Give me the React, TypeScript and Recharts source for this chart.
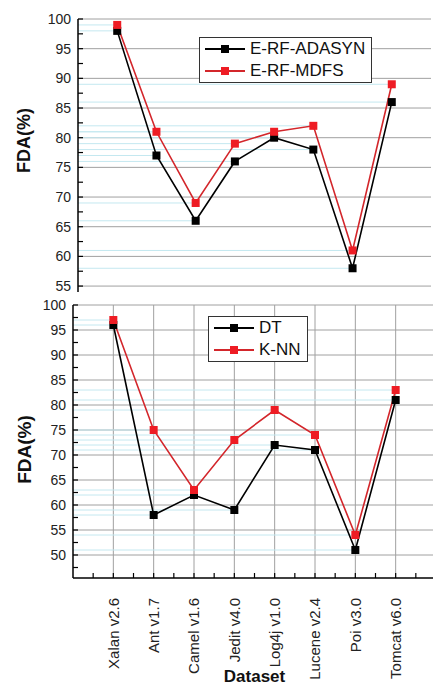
import React from "react";
import { LineChart, Line, XAxis, YAxis, CartesianGrid, ReferenceLine, Legend } from "recharts";

const datasets = ["Xalan v2.6", "Ant v1.7", "Camel v1.6", "Jedit v4.0", "Log4j v1.0", "Lucene v2.4", "Poi v3.0", "Tomcat v6.0"];
const adasyn = [98, 77, 66, 76, 80, 78, 58, 86];
const mdfs = [99, 81, 69, 79, 81, 82, 61, 89];
const dt = [96, 58, 62, 59, 72, 71, 51, 81];
const knn = [97, 75, 63, 73, 79, 74, 54, 83];
const topMajor = [55, 60, 65, 70, 75, 80, 85, 90, 95, 100];
const bottomMajor = [50, 55, 60, 65, 70, 75, 80, 85, 90, 95, 100];

const FONT = "'Liberation Sans', Arial, sans-serif";
const RED_LINE = "#d3262b";
const RED_DOT = "#ee1c24";
const BLACK = "#000";
const GRID = "#a0a0a0";
const DROP = "#c4e8f0";

const catIdx = datasets.map((_, i) => i + 1);
const xTicks = [0.5, ...catIdx.flatMap((i) => [i, i + 0.5])];
const withMinor = (major: number[], min: number) =>
  major.flatMap((t) => [t - 2.5, t]).filter((t) => t >= min);

const topRows = datasets.map((name, i) => ({ idx: i + 1, name, a: adasyn[i], b: mdfs[i] }));
const bottomRows = datasets.map((name, i) => ({ idx: i + 1, name, a: dt[i], b: knn[i] }));

const square = (fill: string) => (p: any) => (
  <rect key={`sq-${p.index}`} x={p.cx - 4} y={p.cy - 4} width={8} height={8} fill={fill} />
);

function AxisTitle({ viewBox, text, shift, size }: any) {
  const cx = viewBox.x + 24;
  const cy = viewBox.y + viewBox.height / 2 + shift;
  return (
    <text x={cx} y={cy} transform={`rotate(-90 ${cx} ${cy})`} textAnchor="middle" dominantBaseline="central"
      fontWeight="bold" fontSize={size} fontFamily={FONT} fill="#111">
      {text}
    </text>
  );
}

function DatasetTick({ x, y, payload }: any) {
  const v = payload.value;
  if (!Number.isInteger(v)) return <g />;
  return (
    <text x={x} y={y} transform={`rotate(-90 ${x} ${y})`} textAnchor="end" dy="0.35em"
      fontSize={15} fontFamily={FONT} fill="#222">
      {datasets[v - 1]}
    </text>
  );
}

function LegendBox({ items }: { items: { name: string; line: string; dot: string }[] }) {
  return (
    <div style={{ border: "1px solid #333", background: "#fff", padding: "0 6px 0 5px", fontFamily: FONT, fontSize: 17, lineHeight: "22px", color: "#111" }}>
      {items.map((it) => (
        <div key={it.name} style={{ display: "flex", alignItems: "center" }}>
          <svg width={40} height={12}>
            <line x1={0} y1={6} x2={40} y2={6} stroke={it.line} strokeWidth={2} />
            <rect x={16} y={2} width={8} height={8} fill={it.dot} />
          </svg>
          <span style={{ marginLeft: 5 }}>{it.name}</span>
        </div>
      ))}
    </div>
  );
}

function dropLines(a: number[], b: number[]) {
  return [...a, ...b].map((v, k) => (
    <ReferenceLine key={`d${k}`} xAxisId="b" yAxisId="l" stroke={DROP} strokeWidth={1}
      segment={[{ x: 0, y: v }, { x: (k % a.length) + 1, y: v }]} />
  ));
}

export default function App() {
  const axisLine = { stroke: "#000", strokeWidth: 1.5 };
  const tickLine = { stroke: "#000", strokeWidth: 1.2 };
  return (
    <div style={{ position: "absolute", left: 0, top: 0, width: 433, height: 688, overflow: "hidden", background: "#fff" }}>
      <div style={{ position: "absolute", left: 0, top: 0 }}>
        <LineChart width={433} height={300} data={topRows} margin={{ top: 19, right: 2, bottom: 8, left: 0 }}>
          <CartesianGrid xAxisId="b" yAxisId="l" stroke={GRID} verticalValues={catIdx} horizontalValues={topMajor} />
          {dropLines(adasyn, mdfs)}
          <XAxis xAxisId="b" dataKey="idx" type="number" domain={[0, 9]} ticks={xTicks} interval={0}
            tick={false} tickSize={-5} height={0} axisLine={axisLine} tickLine={tickLine} />
          <XAxis xAxisId="t" orientation="top" type="number" domain={[0, 9]} ticks={xTicks} interval={0}
            tick={false} tickSize={-5} height={0} axisLine={axisLine} tickLine={tickLine} />
          <YAxis yAxisId="l" type="number" domain={[54, 100]} ticks={withMinor(topMajor, 54)} interval={0}
            tickFormatter={(v: number) => (v % 5 === 0 ? String(v) : "")} width={78} tickSize={-5} tickMargin={12}
            tick={{ fontSize: 14, fontFamily: FONT, fill: "#222" }} axisLine={axisLine} tickLine={tickLine}
            label={<AxisTitle text="FDA(%)" shift={-15} size={18} />} />
          <YAxis yAxisId="r" orientation="right" type="number" domain={[54, 100]} ticks={withMinor(topMajor, 54)}
            interval={0} tick={false} width={0} tickSize={-5} axisLine={axisLine} tickLine={tickLine} />
          <Legend layout="vertical" align="center" verticalAlign="middle" wrapperStyle={{ left: 199, top: 37, width: "auto" }}
            content={() => (
              <LegendBox items={[
                { name: "E-RF-ADASYN", line: BLACK, dot: BLACK },
                { name: "E-RF-MDFS", line: RED_LINE, dot: RED_DOT },
              ]} />
            )} />
          <Line xAxisId="b" yAxisId="l" dataKey="a" name="E-RF-ADASYN" stroke={BLACK} strokeWidth={1.6}
            dot={square(BLACK)} activeDot={false} isAnimationActive={false} />
          <Line xAxisId="b" yAxisId="l" dataKey="b" name="E-RF-MDFS" stroke={RED_LINE} strokeWidth={1.6}
            dot={square(RED_DOT)} activeDot={false} isAnimationActive={false} />
        </LineChart>
      </div>
      <div style={{ position: "absolute", left: 0, top: 290 }}>
        <LineChart width={440} height={398} data={bottomRows} margin={{ top: 15, right: 4, bottom: 0, left: 0 }}>
          <CartesianGrid xAxisId="b" yAxisId="l" stroke={GRID} verticalValues={catIdx} horizontalValues={bottomMajor} />
          {dropLines(dt, knn)}
          <XAxis xAxisId="b" dataKey="idx" type="number" domain={[0, 9]} ticks={xTicks} interval={0}
            tick={<DatasetTick />} tickSize={-5} tickMargin={25} height={110} axisLine={axisLine} tickLine={tickLine}
            label={{ value: "Dataset", position: "insideBottom", offset: 6, fontSize: 17, fontWeight: "bold", fontFamily: FONT, fill: "#111" }} />
          <YAxis yAxisId="l" type="number" domain={[45.4, 100]} ticks={withMinor(bottomMajor, 45.4)} interval={0}
            tickFormatter={(v: number) => (v % 5 === 0 ? String(v) : "")} width={73} tickSize={-5} tickMargin={12}
            tick={{ fontSize: 14, fontFamily: FONT, fill: "#222" }} axisLine={axisLine} tickLine={tickLine}
            label={<AxisTitle text="FDA(%)" shift={8} size={19} />} />
          <YAxis yAxisId="r" orientation="right" type="number" domain={[45.4, 100]} ticks={withMinor(bottomMajor, 45.4)}
            interval={0} tick={false} width={0} tickSize={-5} axisLine={axisLine} tickLine={tickLine} />
          <Legend layout="vertical" align="center" verticalAlign="middle" wrapperStyle={{ left: 208, top: 26, width: "auto" }}
            content={() => (
              <LegendBox items={[
                { name: "DT", line: BLACK, dot: BLACK },
                { name: "K-NN", line: RED_LINE, dot: RED_DOT },
              ]} />
            )} />
          <Line xAxisId="b" yAxisId="l" dataKey="a" name="DT" stroke={BLACK} strokeWidth={1.6}
            dot={square(BLACK)} activeDot={false} isAnimationActive={false} />
          <Line xAxisId="b" yAxisId="l" dataKey="b" name="K-NN" stroke={RED_LINE} strokeWidth={1.6}
            dot={square(RED_DOT)} activeDot={false} isAnimationActive={false} />
        </LineChart>
      </div>
    </div>
  );
}
